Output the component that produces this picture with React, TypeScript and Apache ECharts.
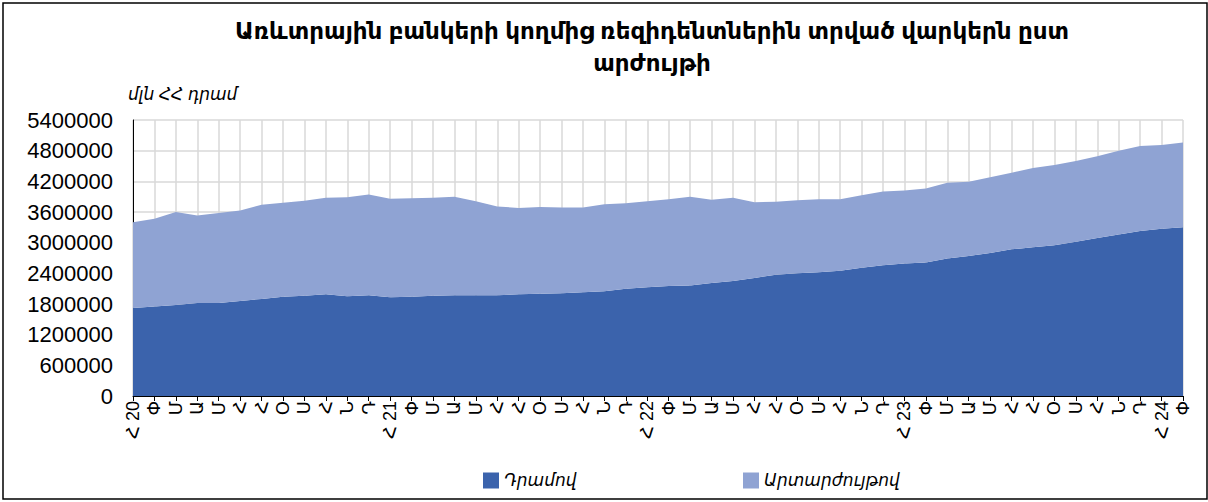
import React, { useEffect, useRef } from "react";
import * as echarts from "echarts";

const monthLetters = ["Հ", "Փ", "Մ", "Ա", "Մ", "Հ", "Հ", "Օ", "Ս", "Հ", "Ն", "Դ"];
const years = ["20", "21", "22", "23", "24"];
const categories: string[] = [];
years.forEach((y) => {
  monthLetters.forEach((m, i) => {
    if (y === "24" && i > 1) return;
    categories.push(i === 0 ? `${m} ${y}` : m);
  });
});

const dram = [
  1720000, 1750000, 1780000, 1820000, 1820000, 1860000, 1900000, 1940000, 1960000, 1990000, 1950000, 1970000,
  1930000, 1940000, 1960000, 1970000, 1970000, 1970000, 1990000, 2000000, 2010000, 2030000, 2050000, 2100000,
  2130000, 2150000, 2160000, 2210000, 2250000, 2310000, 2370000, 2400000, 2420000, 2450000, 2510000, 2560000,
  2590000, 2610000, 2690000, 2740000, 2800000, 2870000, 2910000, 2950000, 3020000, 3090000, 3160000, 3230000,
  3270000, 3300000,
];
const foreign = [
  1680000, 1720000, 1820000, 1710000, 1760000, 1770000, 1840000, 1840000, 1860000, 1890000, 1940000, 1970000,
  1930000, 1930000, 1920000, 1930000, 1840000, 1740000, 1690000, 1700000, 1680000, 1660000, 1700000, 1670000,
  1680000, 1700000, 1740000, 1630000, 1630000, 1480000, 1430000, 1430000, 1430000, 1400000, 1420000, 1440000,
  1430000, 1450000, 1480000, 1450000, 1480000, 1500000, 1550000, 1570000, 1580000, 1600000, 1640000, 1660000,
  1640000, 1660000,
];

const seriesNames = ["Դրամով", "Արտարժույթով"];
const titleLines = ["Առևտրային բանկերի կողմից ռեզիդենտներին տրված վարկերն ըստ", "արժույթի"];
const unitLabel = "մլն ՀՀ դրամ";

const FONT = "Arial, 'Liberation Sans', 'DejaVu Sans', sans-serif";
const DARK = "#3B63AC";
const LIGHT = "#8FA3D3";

export default function App() {
  const ref = useRef<HTMLDivElement>(null);
  useEffect(() => {
    document.body.style.margin = "0";
    const chart = echarts.init(ref.current!, null, { renderer: "svg" });
    chart.setOption({
      animation: false,
      backgroundColor: "#fff",
      textStyle: { fontFamily: FONT },
      title: {
        text: titleLines.join("\n"),
        left: 647,
        textAlign: "center",
        top: 10,
        textStyle: { fontSize: 23, fontWeight: "bold", color: "#000", lineHeight: 32, fontFamily: FONT },
      },
      legend: [
        {
          data: [seriesNames[0]],
          left: 478,
          top: 467,
          icon: "rect",
          itemWidth: 16,
          itemHeight: 16,
          textStyle: { fontSize: 17, fontStyle: "italic", color: "#000", fontFamily: FONT },
        },
        {
          data: [seriesNames[1]],
          left: 738,
          top: 467,
          icon: "rect",
          itemWidth: 16,
          itemHeight: 16,
          textStyle: { fontSize: 17, fontStyle: "italic", color: "#000", fontFamily: FONT },
        },
      ],
      graphic: [
        {
          type: "rect",
          shape: { x: 3, y: 3, width: 1204, height: 496 },
          style: { fill: "none", stroke: "#000", lineWidth: 1.5 },
          silent: true,
        },
        {
          type: "text",
          left: 128,
          top: 86,
          style: { text: unitLabel, fill: "#000", font: `italic 17px ${FONT}` },
        },
      ],
      grid: { left: 133, right: 25, top: 120, height: 276 },
      xAxis: {
        type: "category",
        data: categories,
        boundaryGap: false,
        axisLine: { lineStyle: { color: "#000", width: 1 } },
        axisTick: { show: true, length: 5, interval: 0, lineStyle: { color: "#000" } },
        axisLabel: { interval: 0, rotate: 90, fontSize: 18, color: "#000", margin: 5, fontFamily: FONT },
        splitLine: { show: true, interval: 0, lineStyle: { color: "#D9D9D9", width: 1.5 } },
      },
      yAxis: {
        type: "value",
        min: 0,
        max: 5400000,
        interval: 600000,
        axisLine: { show: true, lineStyle: { color: "#000", width: 1 } },
        axisTick: { show: false },
        axisLabel: {
          fontSize: 22,
          color: "#000",
          margin: 20,
          fontFamily: FONT,
          formatter: (v: number) => String(v),
        },
        splitLine: { lineStyle: { color: "#D9D9D9", width: 1.5 } },
      },
      series: [
        {
          name: seriesNames[0],
          type: "line",
          stack: "total",
          data: dram,
          symbol: "none",
          lineStyle: { width: 0 },
          itemStyle: { color: DARK },
          areaStyle: { color: DARK, opacity: 1 },
        },
        {
          name: seriesNames[1],
          type: "line",
          stack: "total",
          data: foreign,
          symbol: "none",
          lineStyle: { width: 0 },
          itemStyle: { color: LIGHT },
          areaStyle: { color: LIGHT, opacity: 1 },
        },
      ],
    });
    return () => chart.dispose();
  }, []);
  return <div ref={ref} style={{ width: 1208, height: 502 }} />;
}
